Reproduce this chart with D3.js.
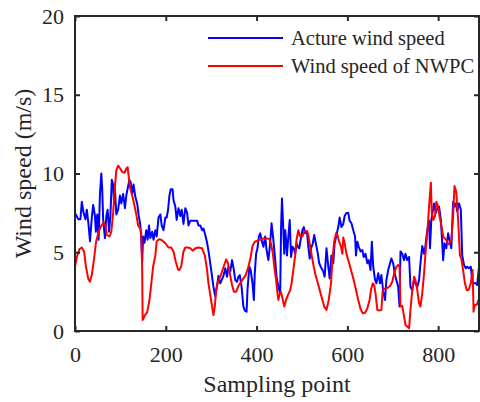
<!DOCTYPE html>
<html>
<head>
<meta charset="utf-8">
<script src="https://cdn.jsdelivr.net/npm/d3@7"></script>
<style>
  body { margin: 0; background: #fff; }
  svg { display: block; font-family: "Liberation Serif", "Times New Roman", serif; }
  .axis text { fill: #262626; font-family: "Liberation Serif", "Times New Roman", serif; font-size: 22px; }
  .axis line { stroke: #262626; stroke-width: 2; }
</style>
</head>
<body>
<svg id="chart" width="480" height="402"></svg>
<script>
// data
var actualX = [0,2,7,12,15,19,23,26,30,33,37,40,44,46,49,52,55,58,60,62,66,69,72,75,78,81,84,86,88,91,95,99,102,106,110,113,117,120,123,126,129,133,137,140,144,146,148,150,153,157,160,163,166,170,173,
  177,180,184,188,191,195,199,202,205,208,211,215,217,221,224,228,232,235,239,243,247,250,254,258,263,269,272,276,280,283,287,291,294,298,302,305,309,313,316,320,324,327,331,335,338,342,346,350,353,357,
  360,363,367,371,374,378,380,384,387,391,394,396,399,402,405,408,411,415,419,422,426,430,433,437,441,444,448,452,454,456,458,461,463,465,467,470,473,476,479,482,485,488,491,494,497,501,504,507,511,514,517,520,524,527,531,535,538,
  543,547,550,554,558,561,565,569,572,576,580,583,587,591,594,598,602,605,609,613,617,619,622,625,629,633,636,640,644,647,651,654,657,661,664,668,672,675,679,683,686,690,694,697,701,705,708,712,715,
  717,721,725,728,732,736,739,743,747,750,754,758,761,765,769,772,776,780,782,785,788,791,795,798,802,806,809,811,814,818,822,825,829,833,836,839,842,846,850,853,857,861,864,868,872,875,879,883,886,890];
var actualSpeed = [7.26,7.4,7.1,7.1,8.2,7.5,7.1,7.7,6.7,5.7,7.2,8.0,7.3,6.3,7.4,5.8,8.7,10.0,9.0,7.1,5.9,7.3,7.7,6.3,7.3,9.6,9.3,8.1,9.0,7.4,7.7,8.6,8.1,8.7,7.8,8.6,9.2,9.6,9.4,8.7,9.3,8.5,8.1,7.4,6.7,5.8,4.4,6.0,5.6,6.4,5.8,6.7,5.9,6.3,5.8,
  6.4,6.0,7.2,7.4,6.7,6.4,7.2,7.2,7.7,8.6,9.0,9.0,8.3,7.9,7.05,7.8,7.3,7.7,6.8,7.8,7.5,6.7,7.0,7.0,7.0,7.0,6.7,6.7,6.4,6.5,6.1,5.6,5.1,4.3,3.45,2.8,2.2,2.9,3.5,3.03,3.3,3.5,3.98,3.45,4.08,3.77,4.5,3.87,3.24,3.13,
  3.45,3.55,2.8,1.55,1.3,1.23,2.6,4.08,3.87,3.03,1.97,3.66,4.9,5.25,5.99,6.2,5.78,5.35,6.0,5.14,4.5,5.57,6.84,5.78,4.5,3.45,2.8,2.4,6.6,8.42,7.05,4.9,6.4,5.8,4.8,6.0,7.05,4.7,5.35,5.25,4.9,5.57,5.35,5.25,5.78,6.4,6.6,6.2,6.3,5.35,4.6,5.25,5.57,6.1,5.5,4.9,4.3,
  3.98,3.77,3.45,5.25,4.08,3.34,4.8,4.3,5.57,6.1,6.6,7.2,6.6,6.8,7.3,7.5,7.5,7.0,6.84,6.4,6.0,4.8,5.67,5.35,5.05,5.14,4.7,4.9,4.3,4.5,3.87,5.67,4.08,3.24,3.03,3.66,3.03,3.55,2.5,1.97,3.24,3.87,4.3,4.6,4.3,3.55,3.24,2.8,1.55,
  5.05,4.9,4.5,4.9,4.5,4.7,2.8,2.6,3.24,3.03,2.8,3.24,4.3,5.4,4.9,5.4,6.4,7.0,5.25,7.05,7.6,8.1,7.5,7.8,7.9,7.05,5.57,4.5,5.57,5.25,6.2,5.78,5.25,8.2,7.9,8.1,7.6,8.1,7.7,4.8,4.2,3.98,4.08,3.98,4.08,3.13,3.03,3.03,2.92,4.08];

var nwpcX = [0,4,10,15,20,24,29,33,37,42,46,52,58,63,67,70,76,80,84,88,91,95,100,104,109,113,116,119,122,126,130,135,139,144,146,148,149,154,159,164,168,172,177,
  180,185,191,199,206,212,217,222,227,230,234,239,243,248,254,260,265,272,280,286,291,294,298,302,305,308,311,315,320,325,330,333,337,341,346,350,355,
  360,366,371,376,382,387,391,396,402,408,415,422,428,432,436,439,443,446,448,451,454,458,461,465,469,474,477,481,485,488,492,496,501,505,511,514,518,522,526,530,535,540,
  545,549,554,559,564,567,571,575,578,582,586,589,591,594,598,602,608,614,619,624,629,634,639,644,649,652,656,659,662,666,670,675,678,683,689,694,699,703,708,712,715,
  717,721,725,728,732,736,739,743,747,750,754,758,761,765,769,772,776,780,784,786,789,793,796,800,803,807,811,814,818,822,825,829,833,836,840,844,848,851,855,859,863,867,872,876,878,881,885,889];
var nwpcSpeed = [4.08,4.7,5.2,5.3,5.05,4.1,3.34,3.13,3.55,4.6,5.6,6.3,6.7,6.9,6.7,6.1,6.0,6.3,7.5,9.2,10.2,10.5,10.3,10.1,10.05,10.3,10.4,9.6,9.0,8.6,8.1,7.4,6.7,6.5,6.2,3.9,0.7,1.0,1.2,1.95,3.0,4.08,4.8,
  5.7,5.82,5.78,5.57,5.3,5.3,5.05,4.4,3.9,3.87,4.1,5.05,5.3,5.3,5.25,5.1,5.25,5.3,5.25,4.8,3.87,3.03,2.28,1.55,1.01,1.55,2.6,3.13,3.45,3.87,4.3,4.55,4.3,3.66,2.92,2.5,2.5,
  2.86,3.13,3.34,3.55,4.08,4.7,5.4,5.67,5.73,5.8,5.88,5.88,5.84,5.52,4.9,4.08,3.24,2.4,1.97,2.4,2.44,1.97,1.55,1.97,2.28,2.6,3.0,3.87,4.8,5.78,6.4,6.0,6.0,6.3,6.35,6.1,5.35,4.7,4.08,3.55,3.03,2.5,
  1.97,1.55,1.34,1.97,3.03,4.5,5.67,6.2,6.1,5.67,5.35,4.9,5.94,5.57,4.9,4.5,3.87,3.24,2.6,1.97,1.4,1.12,1.16,1.44,1.97,2.6,3.03,2.92,2.4,1.34,1.3,1.34,2.6,2.7,2.75,2.86,3.13,3.66,4.08,4.2,4.08,
  1.55,1.6,0.9,0.38,0.28,0.17,1.34,2.6,3.45,3.24,2.6,1.76,1.55,2.4,3.66,4.9,6.2,7.9,9.42,7.5,7.05,7.3,8.2,7.9,7.3,6.7,6.0,5.9,5.78,5.5,5.57,5.78,7.3,9.2,8.8,7.05,4.8,4.6,3.87,3.03,2.6,2.6,3.03,3.87,1.23,1.66,1.66,1.97];

var xTicks = [0, 200, 400, 600, 800];
var yTicks = [0, 5, 10, 15, 20];
var seriesNames = ["Acture wind speed", "Wind speed of NWPC"];
var seriesColors = ["#0000ff", "#ff0000"];

var svg = d3.select("#chart");
var margin = {top: 16, right: 1, bottom: 71, left: 75};
var width = 480 - margin.left - margin.right;
var height = 402 - margin.top - margin.bottom;

var g = svg.append("g").attr("transform", "translate(" + margin.left + "," + margin.top + ")");

var x = d3.scaleLinear().domain([0, 890]).range([0, width]);
var y = d3.scaleLinear().domain([0, 20]).range([height, 0]);

g.append("clipPath").attr("id", "clip")
  .append("rect").attr("width", width).attr("height", height);

var line = d3.line()
  .x(function(d){ return x(d[0]); })
  .y(function(d){ return y(d[1]); });

var series = [d3.zip(actualX, actualSpeed), d3.zip(nwpcX, nwpcSpeed)];

g.selectAll(".series")
  .data(series)
  .enter()
  .append("path")
  .attr("class", "series")
  .attr("clip-path", "url(#clip)")
  .attr("fill", "none")
  .attr("stroke", function(d, i){ return seriesColors[i]; })
  .attr("stroke-width", 2)
  .attr("stroke-linejoin", "round")
  .attr("d", line);

// axes, ticks point inward on all four sides
g.append("g").attr("class", "axis")
  .attr("transform", "translate(0," + height + ")")
  .call(d3.axisBottom(x).tickValues(xTicks).tickSizeInner(-5).tickSizeOuter(0).tickPadding(15));
g.append("g").attr("class", "axis")
  .call(d3.axisLeft(y).tickValues(yTicks).tickSizeInner(-5).tickSizeOuter(0).tickPadding(11));
g.append("g").attr("class", "axis")
  .call(d3.axisTop(x).tickValues(xTicks).tickSizeInner(-5).tickSizeOuter(0).tickFormat(""));
g.append("g").attr("class", "axis")
  .attr("transform", "translate(" + width + ",0)")
  .call(d3.axisRight(y).tickValues(yTicks).tickSizeInner(-5).tickSizeOuter(0).tickFormat(""));

g.selectAll(".axis .domain").remove();

g.append("rect")
  .attr("width", width).attr("height", height)
  .attr("fill", "none").attr("stroke", "#262626").attr("stroke-width", 2);

// axis titles
g.append("text")
  .attr("x", width / 2).attr("y", height + 61)
  .attr("text-anchor", "middle").attr("font-size", 24).attr("fill", "#262626")
  .text("Sampling point");

g.append("text")
  .attr("transform", "rotate(-90)")
  .attr("x", -height / 2).attr("y", -44)
  .attr("text-anchor", "middle").attr("font-size", 24).attr("fill", "#262626")
  .text("Wind speed (m/s)");

// legend
var legend = g.selectAll(".legend")
  .data(seriesNames)
  .enter()
  .append("g")
  .attr("class", "legend")
  .attr("transform", function(d, i){ return "translate(133," + (22 + i * 28) + ")"; });

legend.append("line")
  .attr("x1", 0).attr("x2", 75)
  .attr("stroke", function(d, i){ return seriesColors[i]; })
  .attr("stroke-width", 2);

legend.append("text")
  .attr("x", 83).attr("dy", "0.33em")
  .attr("font-size", 20.5).attr("fill", "#262626")
  .text(function(d){ return d; });
</script>
</body>
</html>
